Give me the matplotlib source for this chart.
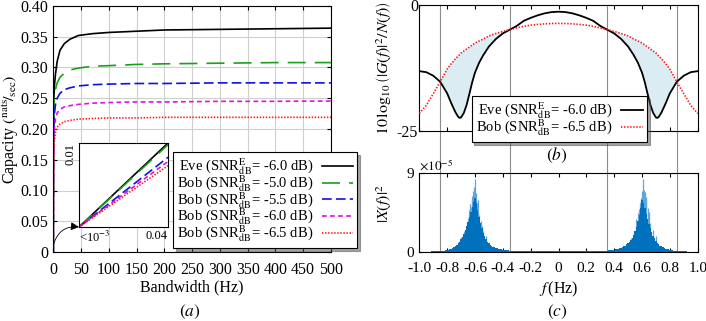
import matplotlib
matplotlib.use("Agg")
import matplotlib.pyplot as plt
import matplotlib.transforms as mtransforms
from matplotlib.lines import Line2D
import numpy as np

plt.rcParams['font.family'] = 'serif'
plt.rcParams['font.serif'] = ['Liberation Serif', 'DejaVu Serif']
plt.rcParams['mathtext.fontset'] = 'stix'
plt.rcParams['axes.unicode_minus'] = False
plt.rcParams['lines.scale_dashes'] = False
plt.rcParams['font.size'] = 11

# ---- panel (a): capacity vs bandwidth ----
bandwidth = [0, 0.04, 0.3, 1, 2, 4, 7, 12, 20, 30, 45, 70, 100, 150, 200, 300, 400, 500]
cap_eve = [0, 0.0100, 0.19, 0.250, 0.270, 0.290, 0.310, 0.328, 0.339, 0.346, 0.352,
           0.355, 0.357, 0.359, 0.361, 0.362, 0.363, 0.364]
cap_bob_50 = [0, 0.0098, 0.17, 0.230, 0.250, 0.265, 0.275, 0.284, 0.291, 0.296, 0.299,
              0.302, 0.303, 0.305, 0.306, 0.307, 0.308, 0.308]
cap_bob_55 = [0, 0.0083, 0.15, 0.205, 0.225, 0.240, 0.250, 0.258, 0.264, 0.267, 0.270,
              0.272, 0.273, 0.274, 0.274, 0.275, 0.275, 0.275]
cap_bob_60 = [0, 0.0078, 0.13, 0.185, 0.203, 0.217, 0.226, 0.232, 0.236, 0.238, 0.240,
              0.242, 0.243, 0.244, 0.244, 0.245, 0.245, 0.2455]
cap_bob_65 = [0, 0.0073, 0.11, 0.165, 0.182, 0.195, 0.203, 0.208, 0.212, 0.214, 0.216,
              0.217, 0.218, 0.218, 0.219, 0.219, 0.219, 0.219]

# zoomed region near zero bandwidth (inset)
inset_bw = [0.001, 0.04]
inset_eve = [0.0, 0.0100]
inset_bob_50 = [0.0, 0.0098]
inset_bob_55 = [0.0, 0.0083]
inset_bob_60 = [0.0, 0.0078]
inset_bob_65 = [0.0, 0.0073]

labels_a = [r'Eve (SNR$_{\mathrm{dB}}^{\mathrm{E}}$= -6.0 dB)',
            r'Bob (SNR$_{\mathrm{dB}}^{\mathrm{B}}$= -5.0 dB)',
            r'Bob (SNR$_{\mathrm{dB}}^{\mathrm{B}}$= -5.5 dB)',
            r'Bob (SNR$_{\mathrm{dB}}^{\mathrm{B}}$= -6.0 dB)',
            r'Bob (SNR$_{\mathrm{dB}}^{\mathrm{B}}$= -6.5 dB)']

# ---- panel (b): channel gain to noise ratio ----
freq_gain = [-1.00, -0.95, -0.90, -0.85, -0.80, -0.77, -0.74, -0.72, -0.71, -0.70, -0.68,
             -0.66, -0.64, -0.62, -0.60, -0.57, -0.54, -0.50, -0.45, -0.40, -0.35, -0.30,
             -0.25, -0.20, -0.15, -0.10, -0.05, 0.00, 0.05, 0.10, 0.15, 0.20, 0.25, 0.30,
             0.35, 0.40, 0.45, 0.50, 0.54, 0.57, 0.60, 0.62, 0.64, 0.66, 0.68, 0.70, 0.71,
             0.72, 0.74, 0.77, 0.80, 0.85, 0.90, 0.95, 1.00]
gain_eve = [-13.1, -13.3, -14.0, -15.2, -17.5, -19.5, -21.3, -22.2, -22.4, -22.3, -21.4,
            -19.8, -17.6, -15.3, -13.4, -11.4, -9.9, -8.2, -6.7, -5.6, -4.85, -4.1,
            -3.1, -2.5, -2.0, -1.6, -1.35, -1.27, -1.35, -1.6, -2.0, -2.5, -3.1, -4.1,
            -4.85, -5.6, -6.7, -8.2, -9.9, -11.4, -13.4, -15.3, -17.6, -19.8, -21.4, -22.3, -22.4,
            -22.2, -21.3, -19.5, -17.5, -15.2, -14.0, -13.3, -13.1]
gain_bob = [-21.5, -19.9, -17.6, -15.2, -12.7, -11.6, -10.6, -10.1, -9.8, -9.5, -9.1,
            -8.7, -8.3, -7.9, -7.5, -7.1, -6.7, -6.1, -5.6, -5.2, -4.85, -4.5,
            -4.2, -3.95, -3.8, -3.7, -3.62, -3.6, -3.62, -3.7, -3.8, -3.95, -4.2, -4.5,
            -4.85, -5.2, -5.6, -6.1, -6.7, -7.1, -7.5, -7.9, -8.3, -8.7, -9.1, -9.5, -9.8,
            -10.1, -10.6, -11.6, -12.7, -15.2, -17.6, -19.9, -21.5]
labels_b = [r'Eve (SNR$_{\mathrm{dB}}^{\mathrm{E}}$= -6.0 dB)',
            r'Bob (SNR$_{\mathrm{dB}}^{\mathrm{B}}$= -6.5 dB)']
band_edges = [-0.85, -0.35, 0.35, 0.85]

# ---- panel (c): signal spectrum, |X(f)|^2 in units of 1e-5 ----
freq_spec = np.round(np.arange(-100, 101) * 0.01, 2)
spec_body = [
    0.03, 0.03, 0.03, 0.04, 0.04, 0.04, 0.05, 0.05, 0.05, 0.06,
    0.07, 0.07, 0.08, 0.09, 0.10, 0.11, 0.12, 0.14, 0.16, 0.19,
    0.22, 0.26, 0.30, 0.36, 0.44, 0.52, 0.64, 0.78, 0.98, 1.20,
    1.45, 1.75, 2.10, 2.50, 2.95, 3.45, 4.00, 4.60, 5.20, 5.70,
    6.20, 5.60, 4.80, 4.00, 3.30, 2.70, 2.20, 1.80, 1.45, 1.20,
    1.00, 0.84, 0.72, 0.62, 0.54, 0.47, 0.41, 0.36, 0.32, 0.29,
    0.26, 0.24, 0.22, 0.20, 0.18, 0.17, 0.16, 0.15, 0.14, 0.13,
    0.12, 0.12, 0.11, 0.11, 0.10, 0.10, 0.09, 0.09, 0.09, 0.08,
    0.08, 0.08, 0.08, 0.07, 0.07, 0.07, 0.07, 0.07, 0.06, 0.06,
    0.06, 0.06, 0.06, 0.06, 0.06, 0.06, 0.06, 0.06, 0.06, 0.06,
    0.06,
    0.06, 0.06, 0.06, 0.06, 0.06, 0.06, 0.06, 0.06, 0.06, 0.06,
    0.06, 0.06, 0.07, 0.07, 0.07, 0.07, 0.07, 0.08, 0.08, 0.08,
    0.08, 0.09, 0.09, 0.09, 0.10, 0.10, 0.11, 0.11, 0.12, 0.12,
    0.13, 0.14, 0.15, 0.16, 0.17, 0.18, 0.20, 0.22, 0.24, 0.27,
    0.30, 0.33, 0.37, 0.42, 0.48, 0.55, 0.63, 0.73, 0.86, 1.02,
    1.20, 1.40, 1.65, 1.95, 2.35, 2.90, 3.50, 4.20, 5.00, 5.90,
    5.60, 5.00, 4.40, 3.80, 3.20, 2.70, 2.25, 1.85, 1.55, 1.30,
    1.05, 0.88, 0.74, 0.63, 0.54, 0.46, 0.40, 0.35, 0.30, 0.26,
    0.22, 0.19, 0.16, 0.14, 0.12, 0.11, 0.10, 0.09, 0.08, 0.07,
    0.06, 0.06, 0.05, 0.05, 0.05, 0.04, 0.04, 0.04, 0.03, 0.03]
spike_freq = [-0.72, -0.70, -0.68, -0.66, -0.65, -0.64, -0.635, -0.63, -0.625, -0.62,
              -0.615, -0.61, -0.605, -0.60, -0.595, -0.59, -0.585, -0.58, -0.575, -0.57,
              -0.56, -0.55, -0.54, -0.52,
              0.52, 0.54, 0.56, 0.57, 0.58, 0.585, 0.59, 0.595, 0.60, 0.604, 0.61, 0.615,
              0.62, 0.625, 0.63, 0.64, 0.65, 0.66, 0.68, 0.70]
spike_height = [1.2, 1.7, 2.4, 3.4, 3.9, 4.8, 5.5, 5.2, 6.4, 6.0,
                7.0, 6.6, 7.4, 8.3, 6.8, 6.0, 5.6, 5.9, 4.6, 4.2,
                3.5, 3.0, 2.4, 1.8,
                1.6, 2.4, 3.8, 4.5, 4.9, 5.6, 6.2, 6.0, 7.0, 8.3, 6.4, 7.1,
                6.9, 6.3, 5.9, 5.0, 4.6, 3.3, 2.5, 1.8]
freq_ticks = [-1.0, -0.8, -0.6, -0.4, -0.2, 0.0, 0.2, 0.4, 0.6, 0.8, 1.0]
freq_ticklabels = ['-1.0', '-0.8', '-0.6', '-0.4', '-0.2', '0', '0.2', '0.4', '0.6', '0.8', '1.0']

W, H = 706, 321
fig = plt.figure(figsize=(W / 100, H / 100), dpi=100)


def px_axes(x0, y0, x1, y1):
    """axes rectangle from pixel corners (top-left origin)"""
    return [x0 / W, 1 - y1 / H, (x1 - x0) / W, (y1 - y0) / H]


styles = [dict(color='black', linestyle='-'),
          dict(color='#1aa01a', linestyle=(0, (13, 6.5))),
          dict(color='#1010e8', linestyle=(0, (7, 3))),
          dict(color='#e010e0', linestyle=(0, (3.4, 2.4))),
          dict(color='#ff1010', linestyle=(0, (1.0, 1.2)))]
series_a = [cap_eve, cap_bob_50, cap_bob_55, cap_bob_60, cap_bob_65]
series_in = [inset_eve, inset_bob_50, inset_bob_55, inset_bob_60, inset_bob_65]
leg_kw = dict(loc='upper left', bbox_transform=fig.transFigure, borderaxespad=0,
              markerfirst=False, fancybox=False, shadow=True, framealpha=1,
              edgecolor='black', labelspacing=-0.28, borderpad=0.3,
              handletextpad=0.6, fontsize=10.5)

# ---------- (a) ----------
ax_a = fig.add_axes(px_axes(53.3, 6, 331, 252))
for vals, st, lab in zip(series_a, styles, labels_a):
    ax_a.plot(bandwidth, vals, lw=1.2, label=lab, **st)
ax_a.set_xlim(0, 500)
ax_a.set_ylim(0, 0.40)
ax_a.set_xticks(np.arange(0, 501, 50))
yt = np.arange(0, 0.401, 0.05)
ax_a.set_yticks(yt)
ax_a.set_yticklabels(['0' if v == 0 else '%.2f' % v for v in yt])
ax_a.grid(True, color='#cfcfcf', lw=0.8)
ax_a.tick_params(direction='in', top=True, right=True, length=3, labelsize=11.5)
ax_a.tick_params(axis='x', pad=7)
ax_a.set_xlabel('Bandwidth (Hz)', labelpad=1, fontsize=11.5)
ax_a.set_ylabel(r'Capacity $({}^{\mathrm{nats}}\!/{}_{\mathrm{sec}})$', fontsize=11.5)
ax_a.yaxis.set_label_coords(-0.118, 0.5)
leg_a = ax_a.legend(bbox_to_anchor=(173 / W, 1 - 152 / H), handlelength=2.1, **leg_kw)
leg_a.get_frame().set_linewidth(0.8)

ax_in = fig.add_axes(px_axes(79, 143, 168, 227))
for vals, st in zip(series_in, styles):
    ax_in.plot(inset_bw, vals, lw=1.2, **st)
ax_in.set_xlim(0.001, 0.04)
ax_in.set_ylim(0, 0.01)
ax_in.set_xticks([0.001, 0.04])
ax_in.set_xticklabels([r'<10$^{-3}$', '0.04'], fontsize=9)
ax_in.get_xticklabels()[0].set_ha('left')
ax_in.get_xticklabels()[1].set_ha('right')
ax_in.set_yticks([0.01])
ax_in.set_yticklabels(['0.01'], fontsize=9, rotation=90, va='top')
ax_in.tick_params(length=0, pad=2)
ax_a.annotate('', xy=(79 / W, 1 - 227 / H), xycoords='figure fraction',
              xytext=(1, 0.014), textcoords='data',
              arrowprops=dict(arrowstyle='-|>', color='black', lw=0.6,
                              connectionstyle='arc3,rad=-0.4', mutation_scale=12,
                              shrinkA=0, shrinkB=0))

# ---------- (b) ----------
ax_b = fig.add_axes(px_axes(419.3, 5.3, 697.7, 131))
ax_b.set_facecolor('none')
ge = np.array(gain_eve)
gb = np.array(gain_bob)
ax_b.fill_between(freq_gain, ge, gb, where=gb > ge, interpolate=True,
                  color='#dcecf3', lw=0, zorder=1)
ax_b.plot(freq_gain, gain_eve, color='black', lw=1.3, label=labels_b[0], zorder=3)
ax_b.plot(freq_gain, gain_bob, color='#ff1010', lw=1.2, linestyle=(0, (1.0, 1.2)),
          label=labels_b[1], zorder=3)
ax_b.set_xlim(-1, 1)
ax_b.set_ylim(-25, 0)
ax_b.set_xticks(freq_ticks)
ax_b.set_xticklabels([])
ax_b.set_yticks([-25, 0])
ax_b.set_yticklabels(['-25', '0'])
ax_b.tick_params(direction='in', top=True, right=True, length=3, pad=1, labelsize=11.5)
ax_b.set_ylabel(r'$10\,\log_{10}\left(|G(f)|^2/N(f)\right)$', fontsize=11.5)
ax_b.yaxis.set_label_coords(-0.09, 0.5)
leg_b = ax_b.legend(bbox_to_anchor=(471.7 / W, 1 - 96 / H), handlelength=1.5, **leg_kw)
leg_b.get_frame().set_linewidth(0.8)
leg_b.set_zorder(5)

# ---------- (c) ----------
ax_c = fig.add_axes(px_axes(419.3, 173.3, 697.7, 252))
ax_c.set_facecolor('none')
ax_c.vlines(spike_freq, 0, spike_height, color='#5ea6dc', lw=0.9, zorder=1)
ax_c.bar(freq_spec, spec_body, width=0.01, color='#0072BD', lw=0, zorder=2)
ax_c.set_xlim(-1, 1)
ax_c.set_ylim(0, 9)
ax_c.set_xticks(freq_ticks)
ax_c.set_xticklabels(freq_ticklabels)
ax_c.set_yticks([0, 9])
ax_c.set_yticklabels(['0', '9'])
ax_c.tick_params(direction='in', top=True, right=True, length=3, labelsize=11)
ax_c.tick_params(axis='x', pad=7)
ax_c.set_xlabel(r'$f\,$(Hz)', labelpad=4, fontsize=11.5)
ax_c.set_ylabel(r'$|X(f)|^2$', fontsize=11.5)
ax_c.yaxis.set_label_coords(-0.09, 0.62)
ax_c.text(0.0, 1.0, r'$\times10^{-5}$', transform=ax_c.transAxes, ha='left',
          va='bottom', fontsize=9.5)

# gray guide lines through (b) and (c)
trans = mtransforms.blended_transform_factory(ax_c.transData, fig.transFigure)
for fx in band_edges:
    fig.add_artist(Line2D([fx, fx], [1 - 252 / H, 1 - 5.3 / H], transform=trans,
                          color='#8c8c8c', lw=0.8, zorder=-1))

fig.text(190 / W, 1 - 312 / H, r'$(a)$', ha='center', va='center', fontsize=12.5)
fig.text(557 / W, 1 - 155 / H, r'$(b)$', ha='center', va='center', fontsize=12.5)
fig.text(557 / W, 1 - 312 / H, r'$(c)$', ha='center', va='center', fontsize=12.5)

fig.savefig('out.png', dpi=100)
